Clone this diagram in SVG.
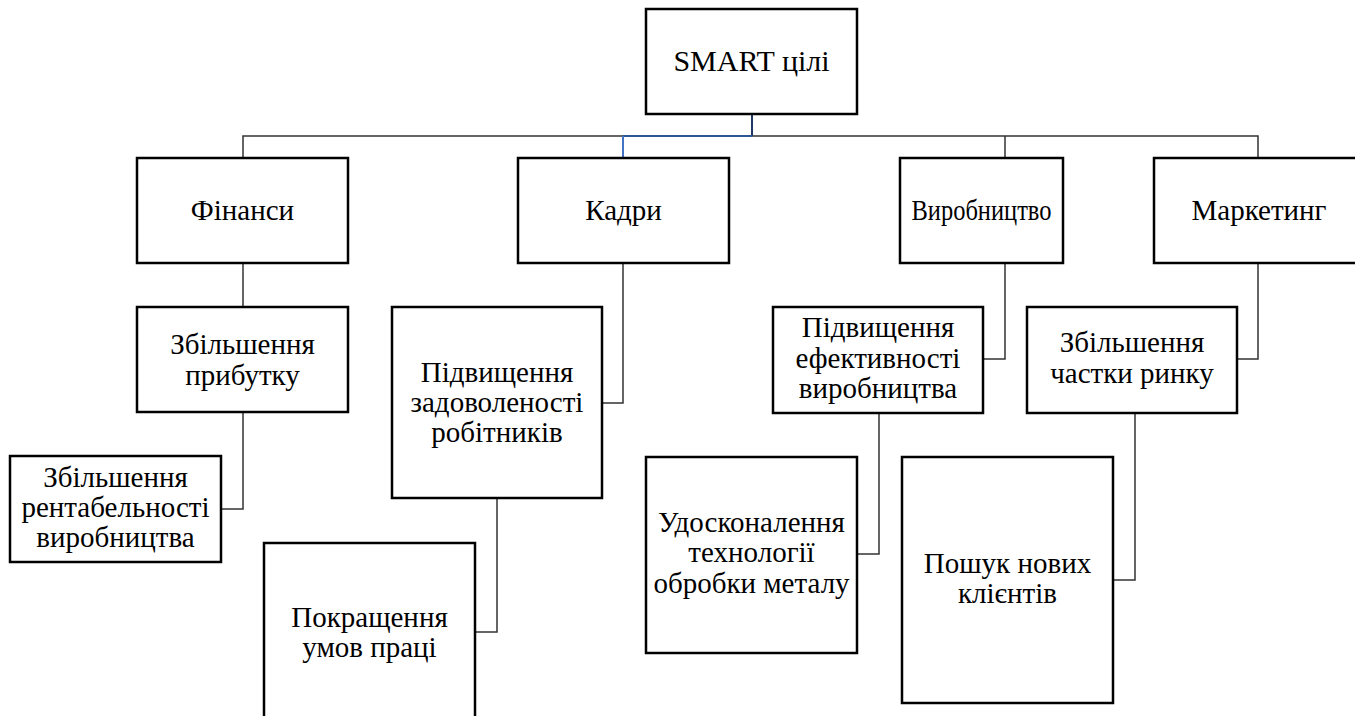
<svg xmlns="http://www.w3.org/2000/svg" width="1355" height="716" viewBox="0 0 1355 716">
<style>
.box{fill:#fff;stroke:#000;stroke-width:2.5}
.t{font-family:"Liberation Serif","Times New Roman",serif;font-size:29px;fill:#000;text-anchor:middle}
.c{fill:none;stroke:#333;stroke-width:1.5}
</style>
<rect width="1355" height="716" fill="#fff"/>
<g id="connectors">
<path class="c" d="M243 158V136H623M752 136H1258V158M1005 136V158"/>
<path fill="none" stroke="#1f3864" stroke-width="2" d="M752 114V136"/>
<path fill="none" stroke="#2f5597" stroke-width="2" d="M752 136H623"/>
<path fill="none" stroke="#4472c4" stroke-width="2" d="M623 136V158"/>
<path class="c" d="M243 263V307"/>
<path class="c" d="M243 412V509H221"/>
<path class="c" d="M623 263V403H602"/>
<path class="c" d="M497 498V632H475"/>
<path class="c" d="M1005 263V359H983"/>
<path class="c" d="M879 413V554H857"/>
<path class="c" d="M1258 263V359H1237"/>
<path class="c" d="M1135 413V580H1113"/>
</g>
<g id="smart"><rect class="box" x="646" y="9" width="211" height="105"/><text class="t" x="751.5" y="71" style="font-size:30px">SMART цілі</text></g>
<g id="finansy"><rect class="box" x="137" y="158" width="211" height="105"/><text class="t" x="242.5" y="220">Фінанси</text></g>
<g id="kadry"><rect class="box" x="518" y="158" width="211" height="105"/><text class="t" x="623.5" y="220">Кадри</text></g>
<g id="vyrobnytstvo"><rect class="box" x="900" y="158" width="163" height="105"/><text class="t" x="981.5" y="220" textLength="140" lengthAdjust="spacingAndGlyphs">Виробництво</text></g>
<g id="marketynh"><rect class="box" x="1154" y="158" width="211" height="105"/><text class="t" x="1259" y="220">Маркетинг</text></g>
<g id="prybutok"><rect class="box" x="137" y="307" width="211" height="105"/><text class="t" x="242.5" y="354">Збільшення</text><text class="t" x="242.5" y="385">прибутку</text></g>
<g id="rentabelnist"><rect class="box" x="10" y="456" width="211" height="106"/><text class="t" x="115.5" y="487">Збільшення</text><text class="t" x="115.5" y="517">рентабельності</text><text class="t" x="115.5" y="547">виробництва</text></g>
<g id="zadovolenist"><rect class="box" x="392" y="307" width="210" height="191"/><text class="t" x="497" y="382">Підвищення</text><text class="t" x="497" y="412">задоволеності</text><text class="t" x="497" y="442">робітників</text></g>
<g id="umovy"><rect class="box" x="264" y="543" width="211" height="200"/><text class="t" x="369.5" y="627">Покращення</text><text class="t" x="369.5" y="657">умов праці</text></g>
<g id="efektyvnist"><rect class="box" x="773" y="307" width="210" height="106"/><text class="t" x="878" y="337">Підвищення</text><text class="t" x="878" y="368">ефективності</text><text class="t" x="878" y="398">виробництва</text></g>
<g id="chastka"><rect class="box" x="1027" y="307" width="210" height="106"/><text class="t" x="1132" y="352">Збільшення</text><text class="t" x="1132" y="383">частки ринку</text></g>
<g id="tekhnolohiya"><rect class="box" x="646" y="457" width="211" height="196"/><text class="t" x="751.5" y="532">Удосконалення</text><text class="t" x="751.5" y="562">технології</text><text class="t" x="751.5" y="593">обробки металу</text></g>
<g id="kliienty"><rect class="box" x="902" y="457" width="211" height="246"/><text class="t" x="1007.5" y="573">Пошук нових</text><text class="t" x="1007.5" y="603">клієнтів</text></g>
</svg>
